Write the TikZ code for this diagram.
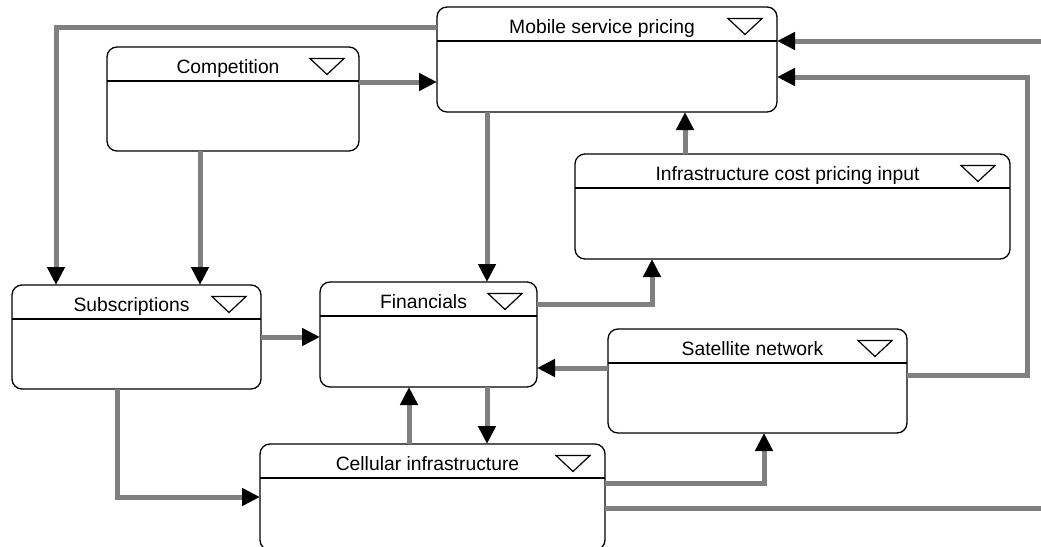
\documentclass[tikz,border=0pt]{standalone}
\usepackage{fontspec}
\setmainfont{Liberation Sans}
\usetikzlibrary{arrows.meta,calc}

\definecolor{wire}{RGB}{128,128,128}

\tikzset{
  statebox/.style={draw=black, line width=1.3pt, rounded corners=10pt,
    inner sep=0pt, outer sep=0pt, fill=white},
  headrule/.style={draw=black, line width=1.3pt},
  menutri/.style={draw=black, line width=1.2pt, line join=miter},
  boxtitle/.style={font=\fontsize{19.3}{22}\selectfont, anchor=base, inner sep=0pt},
  flow/.style={draw=wire, line width=5pt, -{Triangle[length=18pt,width=17pt,black]}},
  flowplain/.style={draw=wire, line width=5pt},
}

% #1 name, #2 left, #3 top, #4 width, #5 height, #6 title
\newcommand{\umlstate}[6]{%
  \node[statebox, minimum width=#4pt, minimum height=#5pt, anchor=north west] (#1) at (#2,#3) {};
  \draw[headrule] ($(#1.north west)+(0,34)$) -- ($(#1.north east)+(0,34)$);
  \node[boxtitle] (#1-title) at ($(#1.north)+(-5,26.5)$) {#6};
  \draw[menutri] ($(#1.north east)+(-49,11.5)$) -- ++(34,0) -- ++(-17,16) -- cycle;
}

\begin{document}
\begin{tikzpicture}[x=1pt, y=-1pt]
  \useasboundingbox (0,0) rectangle (1041,546);
  \clip (0,0) rectangle (1041,546);

  % states
  \umlstate{mob}{437}{7}{340}{105}{Mobile service pricing}
  \umlstate{comp}{107}{47}{252}{104}{Competition}
  \umlstate{inf}{575}{154}{435}{105}{Infrastructure cost pricing input}
  \umlstate{sub}{12}{285}{249}{104}{Subscriptions}
  \umlstate{fin}{320}{282}{217}{105}{Financials}
  \umlstate{sat}{608}{329}{299}{104}{Satellite network}
  \umlstate{cell}{260}{444}{345}{106}{Cellular infrastructure}

  % loose ends at the right margin
  \coordinate (edgeA) at (1041,41);
  \coordinate (edgeB) at (1041,508);

  % flows
  \draw[flow] (mob.west |- 0,27) -| (56,0 |- sub.north);
  \draw[flow] (comp.east |- 0,82) -- (mob.west |- 0,82);
  \draw[flow] (200,0 |- comp.south) -- (200,0 |- sub.north);
  \draw[flow] (487,0 |- mob.south) -- (487,0 |- fin.north);
  \draw[flow] (685,0 |- inf.north) -- (685,0 |- mob.south);
  \draw[flow] (edgeA) -- (mob.east |- edgeA);
  \draw[flow] (sat.east |- 0,375) -| (1027,77) -- (mob.east |- 0,77);
  \draw[flow] (fin.east |- 0,304) -| (652,0 |- inf.south);
  \draw[flow] (sub.east |- 0,337) -- (fin.west |- 0,337);
  \draw[flow] (117,0 |- sub.south) |- (cell.west |- 0,497);
  \draw[flow] (409,0 |- cell.north) -- (409,0 |- fin.south);
  \draw[flow] (487,0 |- fin.south) -- (487,0 |- cell.north);
  \draw[flow] (sat.west |- 0,368) -- (fin.east |- 0,368);
  \draw[flow] (cell.east |- 0,483) -| (764,0 |- sat.south);
  \draw[flowplain] (cell.east |- edgeB) -- (edgeB);
\end{tikzpicture}
\end{document}
